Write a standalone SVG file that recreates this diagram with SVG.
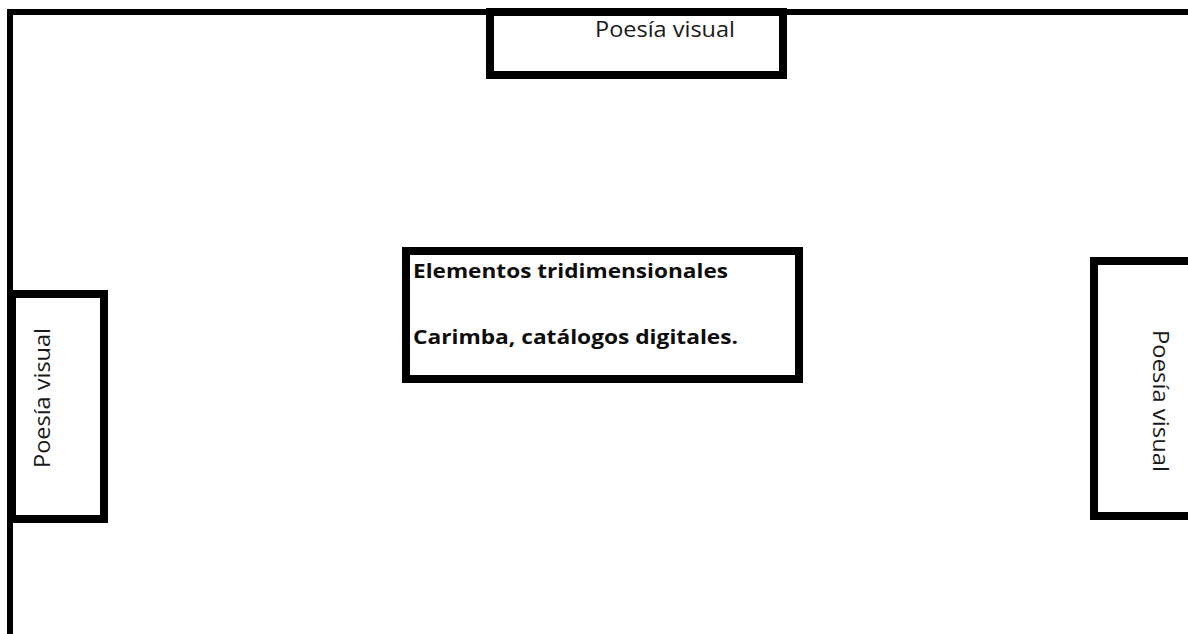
<svg xmlns="http://www.w3.org/2000/svg" width="1188" height="634" viewBox="0 0 1188 634">
<style>
.frame{fill:none;stroke:#000;stroke-width:6}
.box{fill:#fff;stroke:#000;stroke-width:8}
.lbl{font-family:"Open Sans","Liberation Sans",sans-serif;font-size:21px;fill:#1a1a1a}
.bold{font-family:"Open Sans","Liberation Sans",sans-serif;font-size:20px;font-weight:bold;fill:#0d0d0d}
</style>
<rect width="1188" height="634" fill="#fff"/>
<g id="frame">
<path class="frame" d="M10,634 V12 H1188"/>
</g>
<g id="connectors"></g>
<g id="top-node">
<rect class="box" x="490" y="12" width="293" height="63"/>
<text class="lbl" x="595" y="37" textLength="140" lengthAdjust="spacingAndGlyphs">Poesía visual</text>
</g>
<g id="center-node">
<rect class="box" x="406" y="251" width="393" height="128"/>
<text class="bold" x="413" y="278" textLength="315" lengthAdjust="spacingAndGlyphs">Elementos tridimensionales</text>
<text class="bold" x="413" y="344" textLength="325" lengthAdjust="spacingAndGlyphs">Carimba, catálogos digitales.</text>
</g>
<g id="left-node">
<rect class="box" x="12" y="294" width="92" height="225"/>
<text class="lbl" transform="translate(50,468) rotate(-90)" textLength="140" lengthAdjust="spacingAndGlyphs">Poesía visual</text>
</g>
<g id="right-node">
<rect class="box" x="1094" y="261" width="100" height="255"/>
<text class="lbl" transform="translate(1153,330) rotate(90)" textLength="142" lengthAdjust="spacingAndGlyphs">Poesía visual</text>
</g>
</svg>
